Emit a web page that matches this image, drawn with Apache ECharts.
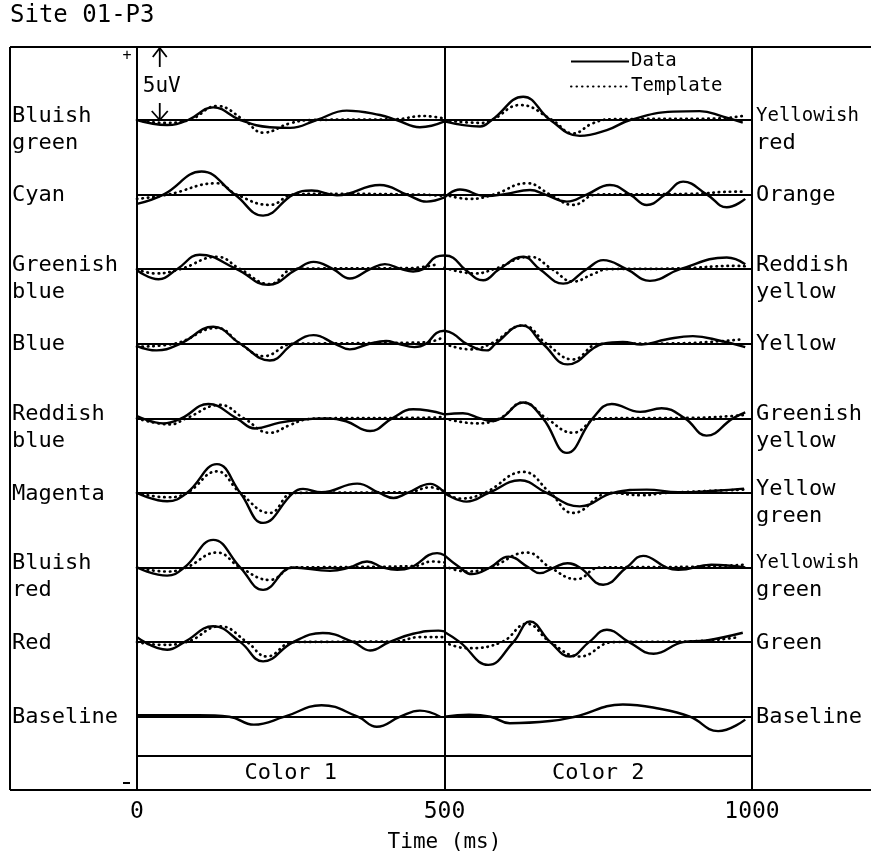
<!DOCTYPE html>
<html>
<head>
<meta charset="utf-8">
<title>Site 01-P3</title>
<script src="https://cdn.jsdelivr.net/npm/echarts@6/dist/echarts.min.js"></script>
<style>
html, body { margin: 0; padding: 0; background: #fff; }
#chart { width: 871px; height: 861px; }
</style>
</head>
<body>
<div id="chart"></div>
<script>
// rows, top to bottom
const leftLabels = [['Bluish', 'green'], ['Cyan'], ['Greenish', 'blue'], ['Blue'], ['Reddish', 'blue'],
  ['Magenta'], ['Bluish', 'red'], ['Red'], ['Baseline']];
const rightLabels = [['Yellowish', 'red'], ['Orange'], ['Reddish', 'yellow'], ['Yellow'], ['Greenish', 'yellow'],
  ['Yellow', 'green'], ['Yellowish', 'green'], ['Green'], ['Baseline']];
const xTicks = [0, 500, 1000];
const blockNames = ['Color 1', 'Color 2'];

// [time ms, amplitude uV]
const color1Data = [
  [[0,0],[49,-0.35],[83,0],[124,0.88],[168,0],[216,-0.5],[249,-0.55],[292,0],[341,0.65],[395,0.35],[422,0],[460,-0.5],[500,-0.1]],
  [[0,-0.65],[43,0],[105,1.6],[159,0],[205,-1.46],[254,0],[284,0.28],[325,-0.05],[395,0.67],[439,0],[471,-0.49],[500,-0.2]],
  [[0,-0.07],[35,-0.7],[65,0],[102,1.0],[162,0],[213,-1.09],[260,0],[287,0.51],[319,0],[346,-0.65],[379,0],[403,0.35],[430,0],[449,-0.16],[465,0],[486,0.85],[500,0.95]],
  [[0,-0.16],[32,-0.46],[70,0],[124,1.18],[168,0],[216,-1.16],[254,0],[287,0.6],[322,0],[346,-0.39],[378,0],[405,0.19],[425,0],[451,-0.23],[470,0],[487,0.75],[500,0.9]],
  [[0,0.16],[43,-0.35],[72,0],[116,1.0],[162,0],[192,-0.7],[232,-0.3],[270,-0.08],[310,0],[340,-0.2],[379,-0.88],[415,0],[449,0.63],[500,0.28]],
  [[0,0],[49,-0.58],[81,0],[130,2.0],[168,0],[205,-2.08],[254,0],[270,0.28],[300,0.05],[358,0.65],[394,0],[417,-0.35],[440,0],[477,0.63],[500,0]],
  [[0,0],[49,-0.56],[77,0],[124,1.92],[168,0],[205,-1.55],[254,0],[314,-0.23],[345,0],[374,0.42],[400,0],[423,-0.16],[445,0],[488,1.0],[500,0.85]],
  [[0,0.35],[49,-0.53],[77,0],[124,1.1],[168,0],[205,-1.34],[254,0],[302,0.63],[352,0],[379,-0.58],[410,0],[449,0.58],[490,0.8],[500,0.75]],
  [[0,0.1],[100,0.1],[150,0],[190,-0.55],[240,0],[300,0.8],[359,0],[390,-0.7],[428,0],[460,0.42],[493,0]]
];
const color1Template = [
  [[0,0],[45,-0.2],[85,0],[130,0.97],[174,0],[205,-0.88],[249,-0.23],[285,0],[420,0.05],[465,0.28],[500,0.1]],
  [[0,-0.3],[50,0],[130,0.79],[162,0],[216,-0.72],[254,0],[300,0.05],[460,0],[500,-0.1]],
  [[0,0],[30,-0.3],[70,0],[130,0.86],[168,0],[216,-1.04],[254,0],[300,0.05],[440,0.07],[490,0.35]],
  [[0,-0.2],[60,0],[130,1.1],[168,0],[206,-0.86],[254,0],[300,0.02],[470,0.1],[496,0.42]],
  [[0,0],[54,-0.42],[80,0],[135,0.93],[174,0],[216,-1.0],[249,-0.46],[275,-0.07],[300,0],[480,0.05],[500,0.12]],
  [[0,0],[49,-0.3],[81,0],[130,1.5],[168,0],[216,-1.39],[254,0],[300,0.02],[440,0.05],[477,0.39],[500,0.1]],
  [[0,0],[49,-0.28],[80,0],[130,1.04],[168,0],[216,-0.86],[254,0],[300,0.02],[450,0.1],[480,0.42],[500,0.35]],
  [[0,0],[40,-0.19],[80,0],[135,1.1],[179,0],[211,-1.0],[254,0],[300,0.02],[420,0.05],[460,0.35],[500,0.35]],
  null
];
const color2Data = [
  [[500,-0.1],[558,-0.45],[577,0],[628,1.62],[672,0],[720,-1.1],[764,-0.7],[802,0],[872,0.58],[915,0.62],[953,0.23],[985,-0.18]],
  [[500,-0.2],[525,0.35],[567,-0.1],[600,0.05],[639,0.32],[664,0],[699,-0.49],[731,0],[769,0.67],[802,0],[829,-0.72],[859,0],[888,0.9],[927,0],[959,-0.88],[989,-0.3]],
  [[500,0.95],[514,0.8],[533,0],[563,-0.77],[589,0],[628,0.86],[655,0],[693,-1.0],[731,0],[758,0.63],[796,0],[834,-0.81],[883,0],[959,0.81],[989,0.35]],
  [[500,0.9],[514,0.7],[536,0],[569,-0.46],[583,0],[626,1.27],[660,0],[700,-1.43],[758,0],[790,0.12],[820,-0.05],[860,0.3],[904,0.53],[950,0.19],[989,-0.23]],
  [[500,0.28],[530,0.35],[558,0],[575,-0.19],[592,0],[628,1.1],[660,0],[699,-2.4],[741,0],[772,1.0],[818,0.45],[853,0.7],[891,0],[926,-1.2],[969,0],[989,0.42]],
  [[500,0],[536,-0.6],[572,0],[623,0.88],[666,0],[720,-0.93],[774,0],[829,0.23],[880,0.05],[940,0.15],[987,0.3]],
  [[500,0.85],[525,0],[544,-0.46],[574,0],[604,0.76],[637,0],[655,-0.39],[678,0],[700,0.3],[720,0],[758,-1.2],[796,0],[823,0.81],[861,0],[880,-0.16],[934,0.19],[989,0]],
  [[500,0.7],[525,0],[571,-1.58],[612,0],[639,1.43],[672,0],[704,-1.0],[735,0],[764,0.86],[800,0],[840,-0.81],[888,0],[926,0.12],[985,0.65]],
  [[500,0],[540,0.14],[575,0],[606,-0.45],[672,-0.3],[712,0],[790,0.85],[850,0.55],[899,0],[945,-1.0],[989,-0.2]]
];
const color2Template = [
  [[500,0],[558,-0.2],[577,0],[623,1.04],[675,0],[709,-0.93],[741,-0.23],[770,0.05],[940,0.1],[985,0.28]],
  [[500,0],[541,-0.3],[580,0],[634,0.79],[672,0],[709,-0.72],[747,0],[900,0.05],[972,0.2],[989,0.2]],
  [[500,0.1],[550,-0.3],[580,0],[639,0.86],[675,0],[709,-0.86],[741,-0.35],[765,0],[880,0.05],[972,0.23],[989,0.2]],
  [[500,0],[541,-0.39],[575,0],[628,1.27],[666,0],[709,-1.09],[752,0],[870,0.02],[982,0.3]],
  [[500,0],[552,-0.35],[590,0],[628,1.1],[666,0],[709,-1.0],[752,0],[900,0.03],[987,0.23]],
  [[500,0.05],[525,-0.39],[565,0],[628,1.46],[672,0],[709,-1.39],[769,0],[820,-0.16],[860,0],[987,0.23]],
  [[500,0.1],[536,-0.28],[574,0],[634,1.04],[672,0],[715,-0.81],[752,0],[900,0.05],[989,0.19]],
  [[500,0],[536,-0.42],[593,0],[634,1.27],[672,0],[720,-1.0],[774,0],[900,0.05],[980,0.35]],
  null
];

// vertical layout in uV: each trace sits on its own zero line
const Y_MAX = 51.6;
const ROW_TOP = 46.53;
const ROW_STEP = 5.18;
const STRIP_Y = 2.36;     // line above the Color 1 / Color 2 strip
const SCALE_UV = 5;
const rowOffsets = leftLabels.map((_, i) => ROW_TOP - i * ROW_STEP);

const FONT = '"DejaVu Sans Mono", monospace';

function shift(points, off) {
  return points.map(p => [p[0], p[1] + off]);
}

const solidStyle = { color: '#000', width: 2.4, type: 'solid' };
const dotStyle = { color: '#000', width: 2.7, type: [0.5, 5], cap: 'round' };

function trace(name, points, style, markLine) {
  const s = {
    name: name,
    type: 'line',
    data: points,
    smooth: 0.45,
    symbol: 'none',
    showSymbol: false,
    silent: true,
    lineStyle: style,
    itemStyle: { color: '#000' }
  };
  if (markLine) s.markLine = markLine;
  return s;
}

const series = [];
rowOffsets.forEach((off, i) => {
  const lines = [{ yAxis: off }];
  if (i === 0) {
    lines.push({ xAxis: 500 });
    lines.push({ yAxis: STRIP_Y });
  }
  series.push(trace('Data', shift(color1Data[i], off), solidStyle, {
    silent: true, symbol: 'none', label: { show: false },
    lineStyle: { color: '#000', width: 2, type: 'solid' },
    data: lines
  }));
  series.push(trace('Data', shift(color2Data[i], off), solidStyle));
  if (color1Template[i]) series.push(trace('Template', shift(color1Template[i], off), dotStyle));
  if (color2Template[i]) series.push(trace('Template', shift(color2Template[i], off), dotStyle));
});

const option = {
  animation: false,
  backgroundColor: '#fff',
  grid: { left: 137, right: 119, top: 47, bottom: 71, show: true, borderColor: '#000', borderWidth: 2 },
  legend: {
    data: ['Data', 'Template'],
    orient: 'vertical',
    left: 565,
    top: 47,
    itemWidth: 58,
    itemHeight: 14,
    itemGap: 6,
    selectedMode: false,
    itemStyle: { opacity: 0 },
    textStyle: { fontFamily: FONT, fontSize: 19, color: '#000', padding: [0, 0, 0, -3] }
  },
  xAxis: {
    type: 'value',
    min: 0,
    max: 1000,
    interval: 500,
    name: 'Time (ms)',
    nameLocation: 'middle',
    nameGap: 42,
    nameTextStyle: { fontFamily: FONT, fontSize: 21, color: '#000' },
    axisLine: { show: false },
    axisTick: { show: false },
    splitLine: { show: false },
    axisLabel: {
      fontFamily: FONT, fontSize: 23, color: '#000', margin: 11,
      formatter: v => (xTicks.indexOf(v) >= 0 ? String(v) : '')
    }
  },
  yAxis: { type: 'value', min: 0, max: Y_MAX, show: false },
  series: series
};

const chart = echarts.init(document.getElementById('chart'));
chart.setOption(option);

// annotation layer positioned through the axes
const px = (t, v) => chart.convertToPixel({ gridIndex: 0 }, [t, v]);
const g = [];
const right0 = px(1000, 0)[0], left0 = px(0, 0)[0];
const top0 = px(0, Y_MAX)[1], bot0 = px(0, 0)[1];
const FRAME_L = 10;

function seg(x1, y1, x2, y2, w) {
  g.push({ type: 'line', silent: true, shape: { x1, y1, x2, y2 }, style: { stroke: '#000', lineWidth: w || 2 } });
}
function poly(points) {
  g.push({ type: 'polyline', silent: true, shape: { points }, style: { stroke: '#000', lineWidth: 1.8, fill: null } });
}
function txt(text, x, y, size, align) {
  g.push({ type: 'text', silent: true, style: {
    text, x, y, fill: '#000', font: size + 'px ' + FONT,
    textAlign: align || 'left', textVerticalAlign: 'middle'
  } });
}

seg(FRAME_L, top0, 871, top0);
seg(FRAME_L, bot0, 871, bot0);
seg(FRAME_L, top0, FRAME_L, bot0);

txt('Site 01-P3', 10, 16, 24);
txt('+', left0 - 10, top0 + 9, 15, 'center');
seg(left0 - 14, bot0 - 7, left0 - 7, bot0 - 7, 2);

rowOffsets.forEach((off, i) => {
  const y = px(0, off)[1];
  [[leftLabels[i], 12], [rightLabels[i], right0 + 4]].forEach(([lab, x]) => {
    if (lab.length === 1) {
      txt(lab[0], x, y + 1, 22);
    } else {
      txt(lab[0], x, y - 4, lab[0].length > 8 ? 19 : 22);
      txt(lab[1], x, y + 23, 22);
    }
  });
});

// Color 1 / Color 2 strip labels
const stripMid = (px(0, STRIP_Y)[1] + bot0) / 2;
txt(blockNames[0], px(250, 0)[0], stripMid, 22, 'center');
txt(blockNames[1], px(750, 0)[0], stripMid, 22, 'center');

// 5 uV scale bar on the first trace
const sx = px(37, 0)[0];
const yLo = px(0, rowOffsets[0])[1];
const yHi = px(0, rowOffsets[0] + SCALE_UV)[1];
seg(sx, yHi, sx, yHi + 19, 1.8);
poly([[sx - 7, yHi + 9], [sx, yHi], [sx + 7, yHi + 9]]);
seg(sx, yLo - 17, sx, yLo, 1.8);
poly([[sx - 8, yLo - 9], [sx, yLo], [sx + 8, yLo - 9]]);
txt('5uV', sx - 17, (yHi + yLo) / 2 + 3, 21);

chart.setOption({ graphic: g });
</script>
</body>
</html>
